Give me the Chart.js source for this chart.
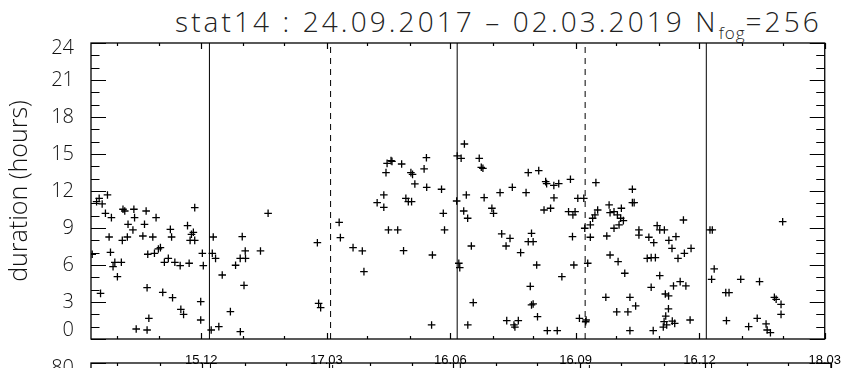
<!DOCTYPE html>
<html>
<head>
<meta charset="utf-8">
<script src="https://cdn.jsdelivr.net/npm/chart.js@4.4.1/dist/chart.umd.min.js"></script>
<style>
  html, body { margin: 0; padding: 0; background: #fff; }
  body { width: 847px; height: 368px; overflow: hidden; position: relative; }
  canvas { position: absolute; left: 0; }
  #title {
    position: absolute; left: 175px; top: 2px;
    font-family: 'Open Sans', 'DejaVu Sans', sans-serif; font-weight: 300;
    font-size: 28px; color: #222; white-space: nowrap; letter-spacing: 3.1px;
  }
  #title sub { font-size: 17px; vertical-align: -7px; line-height: 0; letter-spacing: 1px; }
</style>
</head>
<body>
<div id="title">stat14 : 24.09.2017 – 02.03.2019 N<sub>fog</sub>=256</div>
<canvas id="chart-duration" width="847" height="368" style="top:0"></canvas>
<canvas id="chart-next" width="847" height="300" style="top:320px"></canvas>
<script>
// x values are days since 24.09.2017, y values are fog duration in hours
const fogDay = [
  13.1, 7.0, 5.1, 9.2, 11.6, 16.0, 24.5, 25.8, 32.5, 41.5, 33.0, 48.8, 77.2, 28.2, 40.3, 31.8,
  39.1, 46.4, 14.3, 24.0, 27.7, 59.3, 60.2, 71.9, 76.2, 74.8, 73.8, 77.2, 90.8, 52.0, 50.5, 47.6,
  42.7, 15.3, 1.9, 18.5, 23.3, 17.2, 20.4, 54.9, 57.8, 62.6, 66.5, 73.1, 82.8, 83.5, 90.1, 92.5,
  97.4, 8.0, 42.2, 53.7, 60.9, 81.6, 67.0, 69.0, 103.4, 43.5, 81.6, 34.2, 42.2, 89.3, 94.9, 107.2,
  112.1, 114.3, 110.6, 114.5, 125.5, 113.4, 110.7, 131.1, 167.3, 168.2, 169.7, 183.3, 184.2, 193.5, 200.3, 201.5,
  211.2, 216.1, 216.1, 221.4, 218.5, 222.1, 229.2, 217.7, 236.0, 237.2, 238.9, 247.6, 258.5, 247.4, 245.7, 232.3,
  234.1, 236.5, 259.8, 219.5, 226.3, 260.7, 230.6, 251.8, 269.6, 276.7, 289.8, 274.8, 277.7, 295.5, 296.7, 301.5,
  310.5, 302.7, 308.8, 305.9, 316.6, 280.4, 271.2, 271.9, 281.8, 251.2, 277.8, 306.4, 314.9, 311.7, 312.4, 275.3,
  270.0, 272.9, 286.2, 287.7, 288.9, 322.2, 329.9, 335.0, 335.7, 341.0, 344.6, 353.2, 371.9, 320.6, 341.1, 358.6,
  363.0, 333.8, 338.6, 351.8, 355.0, 356.6, 373.2, 371.2, 369.5, 367.8, 363.7, 381.6, 382.3, 385.2, 387.7, 390.1,
  392.1, 390.6, 398.7, 398.7, 400.0, 385.2, 388.9, 379.9, 367.8, 403.5, 403.5, 410.8, 414.4, 416.9, 418.8, 422.2,
  324.6, 322.2, 325.8, 354.7, 328.4, 355.7, 365.9, 346.9, 382.3, 388.2, 393.1, 409.6, 412.5, 415.6, 418.8, 323.7,
  412.5, 379.2, 396.9, 401.1, 422.9, 425.3, 324.6, 325.8, 329.0, 387.2, 395.4, 359.8, 364.7, 364.4, 336.2, 343.5,
  396.9, 414.0, 425.2, 423.2, 422.0, 421.4, 423.9, 429.8, 428.0, 436.2, 509.1, 455.7, 457.4, 425.5, 430.7, 427.8,
  436.9, 441.8, 432.2, 458.8, 456.9, 478.3, 492.1, 428.9, 433.8, 438.0, 467.3, 469.7, 503.0, 504.3, 507.9, 507.9,
  441.1, 467.8, 490.4, 484.1, 496.9, 497.7, 500.1,
];
const fogHours = [
  11.68, 11.41, 11.14, 10.95, 10.19, 9.84, 10.52, 10.38, 10.52, 10.38, 9.84, 9.84, 10.65, 9.30, 9.30, 8.84,
  8.35, 8.27, 8.27, 8.00, 8.27, 8.89, 8.27, 9.19, 8.65, 8.49, 8.00, 8.00, 8.27, 7.41, 7.30, 6.95,
  6.87, 7.03, 6.87, 6.22, 6.22, 5.87, 5.05, 6.22, 6.54, 6.22, 5.95, 6.14, 6.95, 5.95, 6.95, 6.54,
  5.19, 3.70, 4.16, 3.78, 3.35, 3.03, 2.41, 2.00, 2.22, 1.68, 1.54, 0.81, 0.73, 0.73, 1.00, 5.98,
  8.30, 7.14, 6.54, 6.54, 7.14, 4.35, 0.59, 10.19, 7.81, 2.89, 2.54, 9.46, 8.22, 7.41, 7.14, 5.46,
  11.05, 11.68, 10.68, 14.46, 14.24, 14.40, 14.19, 13.49, 13.49, 13.35, 12.57, 12.30, 12.14, 14.70, 13.79, 11.41,
  11.14, 11.14, 10.19, 8.84, 8.84, 8.84, 7.16, 6.81, 11.19, 11.68, 11.46, 10.38, 9.79, 10.60, 10.19, 11.87,
  12.30, 8.52, 8.16, 7.54, 7.00, 7.54, 6.14, 5.78, 2.95, 1.14, 1.14, 1.49, 1.49, 1.14, 0.97, 15.81,
  14.84, 14.65, 14.65, 13.92, 13.84, 13.49, 13.65, 12.76, 12.60, 12.45, 12.60, 12.95, 12.68, 11.87, 11.45, 11.41,
  11.41, 10.46, 10.60, 10.32, 10.06, 10.32, 10.46, 10.06, 9.79, 9.25, 8.98, 10.87, 10.24, 10.32, 10.06, 9.79,
  9.60, 10.60, 12.14, 11.06, 11.06, 8.98, 9.25, 8.35, 8.25, 8.84, 8.43, 8.25, 7.81, 9.20, 8.84, 8.84,
  8.57, 7.89, 7.89, 8.30, 6.00, 6.00, 6.14, 5.05, 6.81, 6.27, 5.33, 6.54, 6.60, 6.60, 5.14, 4.27,
  4.19, 3.38, 3.38, 2.68, 3.65, 3.49, 2.76, 2.84, 1.81, 2.20, 2.20, 1.68, 1.54, 1.40, 0.68, 0.68,
  0.68, 0.68, 2.45, 1.86, 1.41, 0.97, 1.14, 1.27, 1.45, 9.65, 9.51, 8.84, 8.84, 8.00, 8.30, 7.35,
  6.95, 7.35, 6.54, 5.68, 4.84, 4.84, 4.65, 4.30, 4.65, 4.30, 3.76, 3.76, 3.38, 3.22, 2.81, 2.00,
  1.54, 1.49, 1.68, 1.00, 1.22, 0.73, 0.51,
];

// solstices (solid) and equinoxes (dashed), days since 24.09.2017
const solsticeDays = [88, 270, 453];
const equinoxDays = [177, 364];

// x axis: labelled ticks and the small monthly ticks between them
const xTickDays = [82, 174, 265, 357, 448, 540];
const xTickLabels = ['15.12', '17.03', '16.06', '16.09', '16.12', '18.03'];
const xMinorDays = [20, 51, 113, 143, 204, 235, 296, 326, 387, 418, 479, 509];

const X_MIN = 1;
const X_MAX = 540;

const LABEL_FONT = "'Open Sans', 'DejaVu Sans', sans-serif";

// --- box round the plot with IDL style ticks pointing inwards ---

const idlFrame = {
  id: 'idlFrame',
  afterDraw(chart, args, opts) {
    const { ctx, chartArea: a } = chart;
    const xs = chart.scales.x;
    const ys = chart.scales.y;
    ctx.save();
    ctx.strokeStyle = '#000';
    ctx.setLineDash([]);
    ctx.lineWidth = 1.3;
    ctx.strokeRect(a.left, a.top, a.right - a.left, a.bottom - a.top);

    ctx.lineWidth = 1.2;
    ctx.beginPath();
    const xTick = (v, len) => {
      const px = Math.round(xs.getPixelForValue(v)) + 0.5;
      ctx.moveTo(px, a.top); ctx.lineTo(px, a.top + len);
      ctx.moveTo(px, a.bottom); ctx.lineTo(px, a.bottom - len);
    };
    xTickDays.forEach(v => xTick(v, 6));
    xMinorDays.forEach(v => xTick(v, 3));
    const yTick = (v, len) => {
      const py = Math.round(ys.getPixelForValue(v)) + 0.5;
      ctx.moveTo(a.left, py); ctx.lineTo(a.left + len, py);
      ctx.moveTo(a.right, py); ctx.lineTo(a.right - len, py);
    };
    opts.yMajor.forEach(v => yTick(v, 15));
    opts.yMinor.forEach(v => yTick(v, 8.5));
    ctx.stroke();
    ctx.restore();
  },
};

function seasonLines(top) {
  const lines = [];
  solsticeDays.forEach(d => lines.push({
    type: 'line', data: [{ x: d, y: 0 }, { x: d, y: top }],
    borderColor: '#000', borderWidth: 1, pointRadius: 0, showLine: true,
  }));
  equinoxDays.forEach(d => lines.push({
    type: 'line', data: [{ x: d, y: 0 }, { x: d, y: top }],
    borderColor: '#000', borderWidth: 1, borderDash: [6, 5], pointRadius: 0, showLine: true,
  }));
  return lines;
}

function xScale(showLabels) {
  return {
    type: 'linear', position: 'bottom', min: X_MIN, max: X_MAX,
    grid: { display: false }, border: { display: false },
    afterBuildTicks: (scale) => { scale.ticks = xTickDays.map(v => ({ value: v })); },
    afterFit: (scale) => { scale.height = 29; },
    ticks: {
      display: showLabels, autoSkip: false, maxRotation: 0, padding: 6, color: '#000',
      font: { family: "'Liberation Sans', Arial, sans-serif", size: 13 },
      callback: (v, i) => xTickLabels[i],
    },
  };
}

// --- duration panel ---

const hourTicks = [0, 3, 6, 9, 12, 15, 18, 21, 24];
const hourMinor = [1, 2, 4, 5, 7, 8, 10, 11, 13, 14, 16, 17, 19, 20, 22, 23];

const fogPoints = fogDay.map((d, i) => ({ x: d, y: fogHours[i] }));

new Chart(document.getElementById('chart-duration'), {
  type: 'scatter',
  data: {
    datasets: [
      {
        label: 'fog',
        data: fogPoints,
        pointStyle: 'cross',
        pointRadius: 3.8,
        borderColor: '#000',
        backgroundColor: '#000',
        pointBorderWidth: 1.3,
      },
      ...seasonLines(24),
    ],
  },
  options: {
    responsive: false,
    animation: false,
    devicePixelRatio: 1,
    layout: { padding: { top: 43, right: 16, left: 0, bottom: 0 } },
    plugins: {
      legend: { display: false },
      tooltip: { enabled: false },
      idlFrame: { yMajor: hourTicks, yMinor: hourMinor },
    },
    scales: {
      x: xScale(true),
      y: {
        type: 'linear', position: 'left', min: 0, max: 24,
        grid: { display: false }, border: { display: false },
        afterBuildTicks: (scale) => { scale.ticks = hourTicks.map(v => ({ value: v })); },
        afterFit: (scale) => { scale.width = 91; },
        ticks: {
          autoSkip: false, padding: 9, color: '#111',
          font: (c) => ({
            family: LABEL_FONT, size: 20, weight: 300,
            lineHeight: c.index === 8 ? 0.5 : c.index === 0 ? 0.9 : 1.2,
          }),
          // first / last label nudged inside the frame like the original
          callback: (v) => v === 24 ? ['', '24'] : v === 0 ? ['0', ''] : String(v),
        },
        title: {
          display: true, text: 'duration (hours)', color: '#111',
          font: { family: LABEL_FONT, size: 25, weight: 300 },
          padding: { top: 5, bottom: 0 },
        },
      },
    },
  },
  plugins: [idlFrame],
});

// --- next panel, only its top edge is visible ---

new Chart(document.getElementById('chart-next'), {
  type: 'scatter',
  data: { datasets: seasonLines(80) },
  options: {
    responsive: false,
    animation: false,
    devicePixelRatio: 1,
    layout: { padding: { top: 43, right: 16, left: 0, bottom: 0 } },
    plugins: {
      legend: { display: false },
      tooltip: { enabled: false },
      idlFrame: { yMajor: [0, 20, 40, 60, 80], yMinor: [10, 30, 50, 70] },
    },
    scales: {
      x: xScale(false),
      y: {
        type: 'linear', position: 'left', min: 0, max: 80,
        grid: { display: false }, border: { display: false },
        afterBuildTicks: (scale) => { scale.ticks = [80].map(v => ({ value: v })); },
        afterFit: (scale) => { scale.width = 91; },
        ticks: {
          autoSkip: false, padding: 9, color: '#111',
          font: { family: LABEL_FONT, size: 20, weight: 300, lineHeight: 0.5 },
          callback: (v) => ['', String(v)],
        },
      },
    },
  },
  plugins: [idlFrame],
});
</script>
</body>
</html>
